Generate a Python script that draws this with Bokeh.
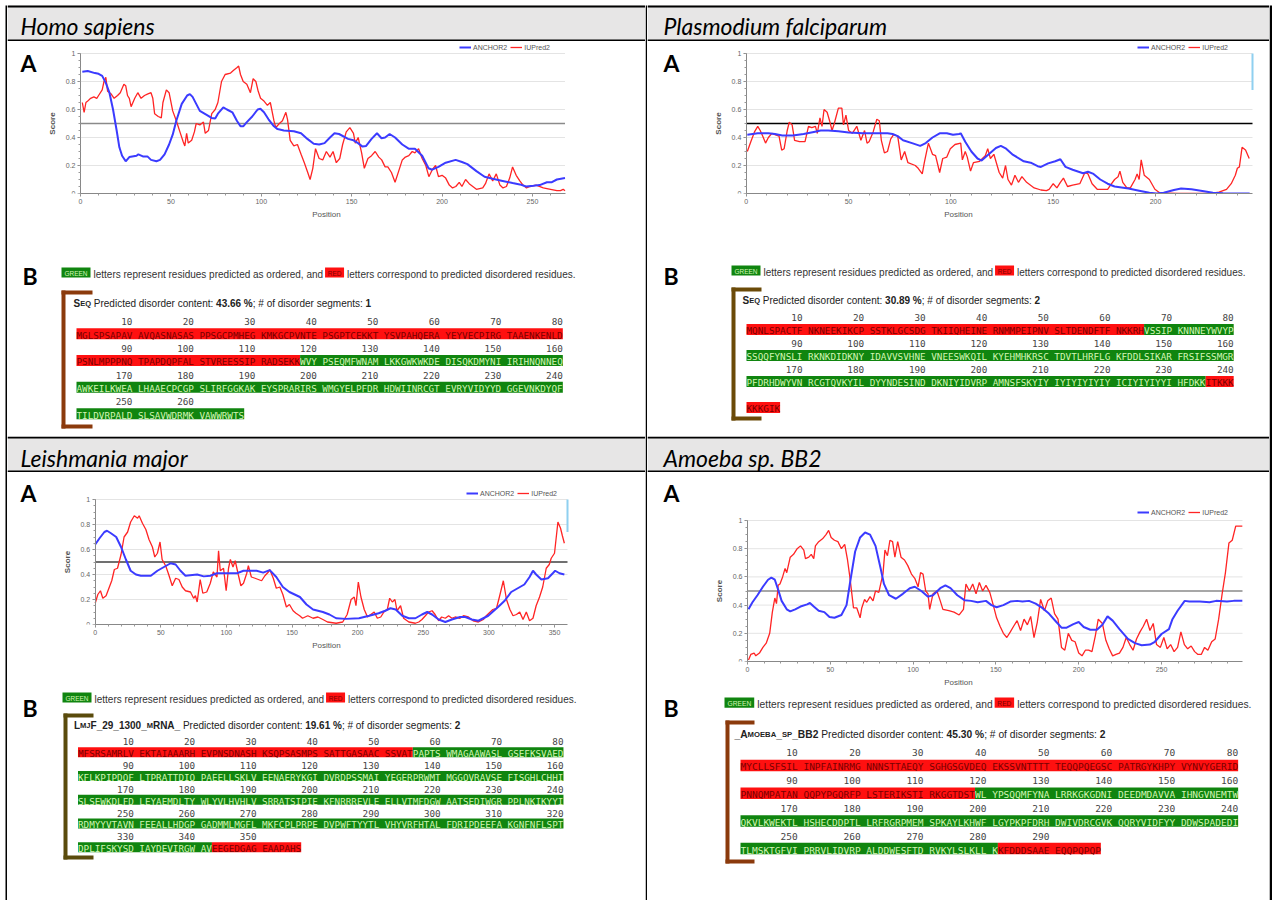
from bokeh.plotting import figure
from bokeh.layouts import row, column
from bokeh.models import Range1d, FixedTicker, Legend, LegendItem, Label, CustomJSTickFormatter
from bokeh.embed import file_html
from bokeh.resources import INLINE
from bokeh.core.properties import value

# ---------------------------------------------------------------- data
titles = ["Homo sapiens", "Plasmodium falciparum", "Leishmania major", "Amoeba sp. BB2"]
disorder_content = ["43.66 %", "30.89 %", "19.61 %", "45.30 %"]
disorder_segment_count = ["1", "2", "2", "2"]
legend_labels = ["ANCHOR2", "IUPred2"]
disorder_threshold = 0.5
score_ticks = [0, 0.2, 0.4, 0.6, 0.8, 1]
# light-blue marker seen at the right edge of two of the plots (score range)
plas_edge_marker = (0.74, 1.0)
leish_edge_marker = (0.74, 1.0)

homo_seq = ("MGLSPSAPAV AVQASNASAS PPSGCPMHEG KMKGCPVNTE PSGPTCEKKT YSVPAHQERA YEYVECPIRG TAAENKENLD "
            "PSNLMPPPNQ TPAPDQPFAL STVREESSIP RADSEKKWVY PSEQMFWNAM LKKGWKWKDE DISQKDMYNI IRIHNQNNEQ "
            "AWKEILKWEA LHAAECPCGP SLIRFGGKAK EYSPRARIRS WMGYELPFDR HDWIINRCGT EVRYVIDYYD GGEVNKDYQF "
            "TILDVRPALD SLSAVWDRMK VAWWRWTS")
plas_seq = ("MQNLSPACTF NKNEEKIKCP SSTKLGCSDG TKIIQHEINE RNMMPEIPNV SLTDENDFTF NKKRHVSSIP KNNNEYWVYP "
            "SSQQFYNSLI RKNKDIDKNY IDAVVSVHNE VNEESWKQIL KYEHMHKRSC TDVTLHRFLG KFDDLSIKAR FRSIFSSMGR "
            "PFDRHDWYVN RCGTQVKYIL DYYNDESIND DKNIYIDVRP AMNSFSKYIY IYIYIYIYIY ICIYIYIYYI HFDKKITKKK "
            "KKKGIK")
leish_seq = ("MFSRSAMRLV EKTAIAAARH EVPNSDNASH KSQPSASMPS SATTGASAAC SSVATPAPTS WMAGAAWASL GSEFKSVAED "
             "KFLKPIPDQF LTPRATTDIQ PAEELLSKLV EENAERYKGI DVRDPSSMAI YEGERPRWMT MGGQVRAVSE FISGHLCHHI "
             "SLSEWKDLFD LEYAEMDLTY WLYVLHVHLV SRRATSIPIE KFNRRREVLE ELLVTMFDGW AATSEDIWGR PPLNKIKYYI "
             "RDMYYVTAVN FEEALLHDGP GADMMLMGFL MKFCPLPRPE DVPWFTYYTL VHYVRFHTAL FDRIPDEEFA KGNFNFLSPT "
             "DPLIFSKYSD IAYDEVIRGW AVEEGEDGAG EAAPAHS")
amoeba_seq = ("MYCLLSFSIL INPFAINRMG NNNSTTAEQY SGHGSGVDEQ EKSSVNTTTT TEQQPQEGSC PATRGYKHPY VYNVYGERID "
              "PNNQMPATAN QQPYPGQRFP LSTERIKSTI RKGGTDSTWL YPSQQMFYNA LRRKGKGDNI DEEDMDAVVA IHNGVNEMTW "
              "QKVLKWEKTL HSHECDDPTL LRFRGRPMEM SPKAYLKHWF LGYPKPFDRH DWIVDRCGVK QQRYVIDFYY DDWSPADEDI "
              "TLMSKTGFVI PRRVLIDVRP ALDDWESFTD RVKYLSLKLL KKFDDDSAAE EQQPQPQP")

homo_disordered = [(1, 117)]
plas_disordered = [(1, 65), (236, 246)]
leish_disordered = [(1, 55), (343, 357)]
amoeba_disordered = [(1, 118), (282, 298)]

homo_anchor2 = [(1,0.87),(4,0.875),(8,0.86),(10,0.855),(12,0.84),(14,0.79),(16,0.72),(18,0.6),(20,0.45),
    (21.5,0.33),(23,0.27),(25,0.23),(27,0.26),(31,0.27),(32,0.28),(34.5,0.265),(37,0.265),(39,0.24),(42,0.23),
    (44,0.24),(46.5,0.28),(49,0.35),(51,0.42),(53,0.52),(56,0.64),(59,0.70),(60.5,0.71),(62,0.69),(64,0.64),
    (66,0.59),(70,0.56),(72.5,0.54),(74.5,0.535),(76,0.57),(79,0.615),(81,0.60),(84,0.58),(86.5,0.52),(88.5,0.48),
    (90,0.48),(92,0.51),(95,0.55),(98,0.60),(99.5,0.605),(101.5,0.58),(104,0.53),(107,0.48),(109,0.46),(112.5,0.45),
    (118,0.445),(122,0.43),(125.5,0.39),(129,0.355),(132,0.35),(135,0.36),(138,0.40),(140.5,0.43),(143,0.425),
    (148,0.39),(151,0.38),(153.5,0.36),(156,0.335),(158,0.34),(161,0.39),(164,0.43),(166.5,0.395),(168.5,0.40),
    (171,0.425),(174,0.40),(178,0.35),(181.5,0.32),(185,0.32),(189,0.27),(192.5,0.18),(194.5,0.17),(198,0.19),
    (202,0.22),(207.5,0.24),(211,0.225),(214,0.21),(219,0.16),(223.5,0.12),(228,0.105),(233.5,0.09),(239,0.075),
    (243,0.065),(246.5,0.05),(250.5,0.055),(254,0.06),(258,0.08),(260.5,0.08),(263.5,0.10),(268,0.11)]
homo_iupred2 = [(1,0.65),(2,0.58),(3,0.65),(4,0.66),(5.6,0.68),(7.4,0.69),(9,0.68),(10,0.70),(12,0.74),(13,0.80),
    (14,0.83),(15,0.73),(17,0.71),(18.6,0.68),(20.5,0.70),(22,0.72),(23,0.75),(24,0.78),(25,0.77),(26,0.70),
    (27,0.68),(28,0.62),(30,0.68),(31.7,0.72),(33.5,0.68),(35.4,0.70),(37,0.71),(39,0.72),(40,0.68),(41,0.57),
    (43,0.55),(44.7,0.54),(45.6,0.65),(47.5,0.74),(49,0.72),(51,0.59),(53,0.52),(55,0.44),(56.8,0.37),(57.7,0.34),
    (58.7,0.43),(59.6,0.36),(61.5,0.38),(63,0.44),(64,0.50),(66,0.49),(68,0.51),(69,0.43),(70.8,0.45),(72.6,0.57),
    (74.5,0.60),(76,0.65),(78,0.80),(80,0.85),(83,0.86),(84.7,0.88),(86.6,0.90),(87.5,0.91),(88.5,0.85),(90,0.80),
    (92,0.78),(94,0.72),(95.5,0.82),(97,0.80),(98.3,0.73),(99.6,0.68),(101.5,0.66),(103.4,0.63),(105,0.65),
    (107,0.52),(108,0.47),(110,0.50),(111.7,0.52),(113.6,0.58),(114.5,0.53),(116,0.38),(118,0.34),(120,0.35),
    (122,0.28),(123.8,0.22),(125.7,0.15),(127,0.10),(128.5,0.18),(130,0.32),(132,0.25),(134,0.24),(136,0.30),
    (138,0.26),(139.7,0.30),(141.5,0.22),(143.4,0.25),(145,0.35),(147,0.44),(149,0.47),(151,0.43),(152,0.36),
    (153.6,0.40),(155.5,0.29),(157,0.18),(159,0.25),(161,0.27),(163,0.30),(165,0.26),(166.6,0.24),(168.5,0.19),
    (170,0.19),(172,0.15),(174,0.08),(176,0.16),(178,0.24),(179.7,0.26),(181.6,0.27),(183.5,0.30),(185,0.29),
    (187,0.32),(189,0.25),(191,0.20),(192.7,0.12),(194.6,0.17),(196.4,0.20),(198,0.12),(200,0.13),(202,0.11),
    (204,0.06),(205.8,0.04),(207.6,0.05),(209.5,0.08),(211,0.05),(213,0.10),(215,0.07),(217,0.05),(219,0.03),
    (222.5,0.04),(224,0.07),(226,0.14),(228,0.09),(230,0.14),(232,0.06),(233.7,0.04),(235.6,0.05),(237.4,0.11),
    (239,0.19),(241,0.13),(243,0.09),(244.8,0.06),(246.7,0.04),(248.6,0.05),(252,0.06),(256,0.04),(260,0.03),
    (263.5,0.02),(265.5,0.02),(267,0.03),(268,0.02)]

plas_anchor2 = [(0.5,0.42),(5.6,0.43),(10.8,0.43),(14,0.425),(17.6,0.415),(22.7,0.415),(28,0.425),(33,0.44),
    (36.4,0.45),(40,0.45),(45,0.445),(50,0.435),(57,0.43),(64,0.43),(69,0.43),(71.5,0.425),(74,0.41),(76.6,0.38),
    (81,0.36),(85,0.34),(87.7,0.36),(91,0.40),(94.5,0.43),(98,0.43),(101,0.42),(104,0.425),(104.8,0.43),(107,0.37),
    (110,0.30),(113,0.25),(115,0.235),(118.5,0.28),(122,0.325),(124.4,0.34),(127,0.32),(130,0.28),(135.6,0.23),
    (139,0.22),(142.4,0.195),(144,0.19),(147.5,0.215),(151,0.23),(153.5,0.245),(156,0.19),(159.5,0.17),
    (164.6,0.145),(167,0.155),(169.7,0.14),(173,0.10),(176.6,0.07),(180,0.05),(186.8,0.035),(192,0.02),
    (197,0.005),(200.5,0.0),(204,0.005),(209,0.025),(212.5,0.035),(217.6,0.03),(224.4,0.015),(228,0.005),
    (233,0.002),(238,0.0),(246,0.0)]
plas_iupred2 = [(0.5,0.30),(2.2,0.37),(4,0.44),(5.6,0.48),(6.8,0.45),(8,0.41),(9.4,0.36),(10.8,0.40),(12.5,0.43),
    (14,0.42),(16,0.41),(17.3,0.31),(18.5,0.32),(20,0.45),(21,0.51),(22.4,0.49),(23.6,0.38),(26,0.37),(28.7,0.37),
    (30.4,0.48),(32,0.47),(33.8,0.48),(34.7,0.43),(36,0.54),(37,0.48),(38,0.60),(39.5,0.58),(40.7,0.52),(41.9,0.45),
    (43,0.50),(45,0.61),(46.7,0.61),(47.5,0.49),(48.7,0.56),(50,0.45),(51.8,0.43),(54,0.48),(56,0.38),(57.8,0.45),
    (59,0.36),(60,0.37),(62,0.44),(63.8,0.53),(65,0.52),(66,0.38),(67.5,0.29),(69,0.30),(70.6,0.39),(72,0.42),
    (74,0.41),(75.7,0.24),(77.4,0.30),(79,0.22),(82.6,0.20),(84,0.18),(86,0.14),(87,0.22),(89,0.36),(91,0.28),
    (92.5,0.27),(94.5,0.15),(96,0.25),(98,0.26),(99.7,0.32),(102,0.35),(104.8,0.36),(105.6,0.24),(107,0.30),
    (108,0.26),(109.6,0.16),(111,0.22),(114,0.23),(116.8,0.27),(118,0.32),(119.3,0.25),(121,0.28),(123.6,0.15),
    (125.3,0.11),(126.7,0.20),(127.9,0.10),(129.6,0.06),(131.3,0.13),(133,0.08),(134.7,0.12),(137,0.08),
    (140.7,0.04),(144,0.025),(146.7,0.02),(148,0.03),(150,0.07),(151.8,0.04),(153.5,0.08),(155,0.11),(157,0.05),
    (159.5,0.06),(163,0.07),(165.5,0.15),(167,0.14),(169,0.07),(171.5,0.03),(176.6,0.03),(178,0.06),(180,0.10),
    (181.7,0.12),(182.6,0.16),(184,0.08),(186,0.04),(187.7,0.04),(190,0.10),(191,0.14),(192,0.10),(193,0.24),
    (194.5,0.13),(197,0.10),(199.7,0.03),(202,0.005),(211,0.0),(219.3,0.0),(228,0.002),(231,0.01),(234.7,0.03),
    (237,0.07),(239,0.13),(240,0.18),(241,0.19),(242.3,0.33),(244,0.31),(245.8,0.25)]

leish_anchor2 = [(0,0.64),(3.3,0.69),(7,0.74),(9,0.75),(12,0.73),(16,0.70),(19.7,0.62),(23.4,0.52),(27,0.43),
    (31,0.40),(34.8,0.39),(42.4,0.39),(47.4,0.43),(52.4,0.46),(57.5,0.49),(61.3,0.48),(65,0.43),(68.8,0.39),
    (77.7,0.40),(82.7,0.385),(87.7,0.39),(92.8,0.41),(100,0.41),(108,0.41),(113,0.43),(118,0.43),(123,0.43),
    (128,0.415),(133,0.435),(138,0.38),(143,0.30),(148,0.26),(156,0.22),(161,0.16),(166,0.12),(173.5,0.10),
    (178.5,0.08),(183.6,0.05),(191,0.045),(201,0.05),(208.8,0.07),(216,0.09),(221,0.11),(225,0.13),(229,0.12),
    (234,0.07),(239,0.05),(244,0.05),(249,0.08),(253,0.10),(256.7,0.08),(261.7,0.04),(266.8,0.02),(271.8,0.04),
    (278,0.06),(282,0.06),(287,0.04),(292,0.03),(299.5,0.07),(307,0.14),(312,0.19),(317,0.26),(322,0.29),
    (327,0.32),(331,0.38),(333.6,0.43),(336,0.40),(340,0.36),(345,0.37),(348.7,0.41),(350.5,0.43),(353.8,0.41),
    (357.5,0.40)]
leish_iupred2 = [(0,0.17),(2,0.24),(4,0.27),(5.8,0.21),(8.3,0.23),(10.8,0.30),(12.6,0.35),(14.6,0.44),(17,0.45),
    (19.7,0.56),(22,0.70),(24.7,0.74),(27,0.82),(29.8,0.87),(32.3,0.85),(33.5,0.87),(36,0.81),(38.6,0.76),(41,0.68),
    (43.6,0.62),(45.4,0.54),(47.4,0.57),(49.4,0.66),(51,0.52),(53.7,0.47),(56,0.40),(58.7,0.31),(61.3,0.37),
    (63.8,0.36),(66.3,0.30),(68.8,0.27),(72.6,0.26),(75,0.21),(76.4,0.23),(77.7,0.18),(80,0.36),(82,0.25),(85,0.26),
    (87.7,0.33),(90,0.42),(92.8,0.38),(94,0.59),(95.3,0.43),(97.8,0.45),(99.8,0.27),(101.6,0.45),(103,0.52),
    (105,0.46),(106.7,0.51),(109,0.40),(111,0.31),(113,0.33),(115.5,0.41),(116.7,0.47),(119,0.38),(121.8,0.37),
    (124.3,0.36),(126.8,0.35),(129.3,0.39),(132,0.42),(133,0.44),(135.7,0.37),(138,0.29),(140.7,0.30),(143,0.24),
    (145.7,0.14),(148,0.16),(150.8,0.11),(153,0.09),(155.8,0.07),(158,0.05),(162,0.07),(166,0.05),(169.7,0.06),
    (173.5,0.04),(177,0.02),(183.6,0.01),(188.6,0.02),(192,0.08),(195,0.20),(197.4,0.22),(198.7,0.15),(200.5,0.34),
    (202.5,0.22),(205,0.12),(207.5,0.06),(210,0.08),(212.6,0.10),(215,0.05),(217.6,0.06),(220,0.10),(222.6,0.12),
    (224.4,0.21),(226.4,0.18),(228.4,0.20),(230,0.11),(232.7,0.15),(235,0.05),(239,0.02),(244,0.01),(246.6,0.02),
    (249,0.04),(251.6,0.07),(254,0.10),(256.7,0.11),(259,0.08),(261.7,0.03),(264,0.06),(266.8,0.05),(269.3,0.07),
    (271.8,0.05),(274.3,0.06),(278,0.05),(280.6,0.07),(284.4,0.06),(288,0.03),(292,0.02),(295.8,0.04),(298,0.07),
    (301,0.10),(303,0.12),(305.8,0.13),(308,0.22),(311,0.35),(313.4,0.20),(316,0.12),(318.4,0.07),(321,0.08),
    (323.5,0.10),(326,0.04),(328.5,0.10),(331,0.03),(333.6,0.05),(336,0.15),(338.6,0.22),(341,0.30),(343.7,0.45),
    (346,0.48),(347.5,0.53),(350,0.57),(352.6,0.82),(354.6,0.77),(356,0.71),(357.5,0.65)]

amoeba_anchor2 = [(0.6,0.37),(3,0.42),(6,0.47),(9.3,0.53),(12.4,0.58),(14.4,0.595),(16.5,0.58),(18.5,0.51),
    (20.6,0.43),(23.7,0.37),(25.8,0.355),(28.8,0.37),(32,0.39),(36,0.405),(37.7,0.415),(40,0.39),(43,0.36),
    (46.4,0.35),(49.5,0.315),(52.5,0.31),(56.7,0.33),(59.8,0.40),(61.8,0.55),(65,0.78),(68,0.88),(71,0.915),
    (74,0.90),(77.3,0.82),(80.4,0.66),(82.4,0.55),(85.5,0.47),(89.6,0.445),(93.8,0.48),(98,0.52),(101,0.53),
    (105,0.50),(109,0.46),(112,0.47),(116.4,0.52),(119.5,0.54),(122.6,0.52),(126.7,0.47),(131,0.435),(135,0.43),
    (139,0.42),(144,0.43),(147.3,0.40),(150.4,0.385),(154.5,0.40),(158.7,0.425),(162.8,0.43),(166,0.425),(170,0.43),
    (174,0.41),(178,0.38),(182,0.34),(186.5,0.28),(189.6,0.24),(192.7,0.24),(196.8,0.265),(200,0.28),(203,0.245),
    (207,0.225),(211,0.225),(214.3,0.26),(217.4,0.32),(220.5,0.29),(224.6,0.23),(229.7,0.16),(234,0.13),
    (238,0.115),(243,0.12),(246,0.14),(250,0.195),(254.5,0.23),(256.6,0.30),(259.7,0.36),(264,0.43),(266.8,0.425),
    (273,0.425),(279,0.42),(283,0.43),(289.5,0.425),(293.6,0.43),(298.8,0.43)]
amoeba_iupred2 = [(0.6,0.01),(2,0.05),(4,0.06),(5,0.04),(7.2,0.06),(9.3,0.10),(11.3,0.13),(13.4,0.20),(15,0.35),
    (16.5,0.45),(17.5,0.41),(18.5,0.54),(19.6,0.55),(21.2,0.60),(22.7,0.66),(23.7,0.63),(25.8,0.74),(27.8,0.76),
    (30,0.80),(32,0.82),(34,0.79),(35,0.73),(37,0.74),(38.5,0.76),(40,0.73),(41,0.82),(43,0.85),(45.3,0.87),
    (47.4,0.90),(49,0.93),(50.5,0.88),(52.5,0.86),(54.6,0.85),(56.7,0.80),(58.7,0.83),(60.4,0.72),(61.8,0.60),
    (64,0.38),(66,0.38),(68,0.31),(69,0.38),(70.7,0.44),(72,0.42),(74,0.46),(75.8,0.43),(77.3,0.50),(79.3,0.49),
    (80.8,0.57),(81.8,0.62),(83,0.79),(84.5,0.75),(86,0.86),(87.6,0.85),(89,0.74),(90.7,0.85),(92.7,0.74),
    (94.8,0.72),(96.8,0.68),(99,0.62),(101,0.59),(103,0.53),(104.5,0.63),(106,0.62),(107.6,0.50),(109,0.48),
    (110,0.37),(112,0.48),(114.4,0.50),(116.4,0.43),(118,0.37),(121.6,0.36),(124.7,0.35),(127.8,0.33),(130.4,0.37),
    (131.9,0.55),(134,0.50),(136,0.55),(138,0.48),(140,0.56),(142,0.50),(144,0.54),(146.3,0.49),(148.4,0.40),
    (150.4,0.31),(152.5,0.25),(154.5,0.20),(156.6,0.17),(158.7,0.21),(160.7,0.25),(162.8,0.29),(164.9,0.22),
    (167,0.30),(169,0.26),(171,0.32),(173,0.17),(175,0.28),(177,0.44),(179.3,0.36),(181.3,0.43),(183.4,0.45),
    (185.4,0.34),(187.5,0.30),(189.6,0.10),(191.6,0.08),(193.7,0.20),(195.8,0.15),(197.8,0.14),(200,0.06),
    (202,0.04),(204,0.08),(206,0.08),(208,0.07),(210,0.18),(211.8,0.30),(214.3,0.27),(216.4,0.15),(218.4,0.09),
    (220.5,0.04),(222.5,0.05),(224.6,0.06),(226.7,0.10),(228.7,0.17),(230.8,0.12),(232.8,0.08),(234.9,0.16),
    (237,0.21),(239,0.25),(241,0.30),(243,0.22),(245,0.27),(247,0.12),(249.3,0.10),(251.4,0.17),(253.4,0.09),
    (255.5,0.12),(257.6,0.07),(259.7,0.10),(261.7,0.21),(263.8,0.12),(265.8,0.09),(267.9,0.11),(270,0.07),
    (272,0.05),(274,0.05),(276,0.10),(278,0.08),(280.3,0.14),(282.4,0.16),(284.5,0.30),(286.6,0.48),(288.6,0.63),
    (290.7,0.84),(292.7,0.86),(294.8,0.96),(298.8,0.96)]

# ---------------------------------------------------------------- styling helpers
BLUE = "#3b3bff"
RED = "#ff2424"
HEADER_BG = "#e7e6e6"
GREEN_BG = "#10850f"
RED_BG = "#ff1010"
GREEN_TXT = "#d2f5b4"
RED_TXT = "#780000"
SANS = "Liberation Sans"
MONO = "DejaVu Sans Mono"
TY = -2.0      # baseline correction for small texts
LATO_TY = -8.0  # baseline correction for the large Lato texts

UP = "ABCDEFGHIJKLMNOPQRSTUVWXYZ"
LO = "abcdefghijklmnopqrstuvwxyz"
REG_UP = [667,667,722,722,667,611,778,722,278,500,667,556,833,722,778,667,778,722,667,611,722,667,944,667,667,611]
REG_LO = [556,556,500,556,556,278,556,556,222,222,500,222,833,556,556,556,556,333,500,278,556,500,722,500,500,500]
BLD_UP = [722,722,722,722,667,611,778,722,278,556,722,611,833,722,778,667,778,722,667,611,722,667,944,667,667,611]
BLD_LO = [556,611,556,611,556,333,611,611,278,278,556,278,889,611,611,611,611,389,556,333,611,556,778,556,556,500]


def text_w(s, size, bold):
    tot = 0
    for ch in s:
        if ch in UP:
            tot += (BLD_UP if bold else REG_UP)[UP.index(ch)]
        elif ch in LO:
            tot += (BLD_LO if bold else REG_LO)[LO.index(ch)]
        elif ch.isdigit() or ch in "#_":
            tot += 556
        elif ch == "%":
            tot += 889
        elif ch in ":;":
            tot += 333 if bold else 278
        else:
            tot += 278
    return tot / 1000.0 * size


def px_fig(w, h, bg="white"):
    p = figure(width=w, height=h, x_range=Range1d(0, w), y_range=Range1d(h, 0),
               x_axis_location=None, y_axis_location=None, tools="",
               toolbar_location=None, output_backend="svg", min_border=0)
    p.grid.visible = False
    p.outline_line_color = None
    p.background_fill_color = bg
    p.border_fill_color = bg
    return p


def bar(w, h, left_white):
    p = px_fig(w, h)
    p.quad(left=[left_white], right=[w], top=[5], bottom=[h], fill_color="black", line_color=None)
    return p


def make_header(title, w, h, top, tx, base):
    p = px_fig(w, h)
    p.quad(left=[0], right=[w], top=[top], bottom=[h], fill_color=HEADER_BG, line_color=None)
    p.quad(left=[0, 0], right=[w, w], top=[top, h - 2], bottom=[top + 2, h], fill_color="black", line_color=None)
    p.text(x=[tx], y=[base + LATO_TY], text=[title], text_font=value("Lato"), text_font_style="italic",
           text_font_size="23px", text_baseline="alphabetic", text_color="black")
    return p


def make_chart(c, anchor, iupred, marker=None):
    qx0, qw = c["qx0"], c["qw"]
    fx0, fx1, dend = c["fx"]          # page px of position 0, page px of frame end, data value at frame end
    ppx = (fx1 - fx0) / dend
    xs = -(fx0 - qx0) / ppx
    xe = dend + (qx0 + qw - fx1) / ppx
    top, y1, y0 = c["fy"]             # figure top, page px of score 1, page px of score 0
    ppy = y0 - y1
    yend = (y0 - top) / ppy
    h = int(round(y0 - top)) + 32
    p = figure(width=qw, height=h, x_range=Range1d(xs, xe), y_range=Range1d(0, yend),
               tools="", toolbar_location=None, output_backend="svg",
               min_border_left=0, min_border_right=0, min_border_top=0, min_border_bottom=32)
    p.outline_line_color = None
    p.background_fill_color = "white"
    p.border_fill_color = "white"
    p.xgrid.visible = False
    p.ygrid.visible = False
    p.xaxis.ticker = FixedTicker(ticks=list(range(0, int(dend) + 1, 50)),
                                 minor_ticks=list(range(0, int(dend) + 1, 10)))
    p.xaxis.bounds = (0, dend)
    p.yaxis.ticker = FixedTicker(ticks=score_ticks, minor_ticks=[round(i * 0.05, 2) for i in range(21)])
    p.yaxis.formatter = CustomJSTickFormatter(code="return String(tick)")
    p.yaxis.fixed_location = 0
    p.yaxis.bounds = (0, 1)
    for ax in (p.xaxis, p.yaxis):
        ax.axis_line_color = "#888888"
        ax.major_tick_line_color = "#888888"
        ax.minor_tick_line_color = "#999999"
        ax.major_tick_out = 3
        ax.major_tick_in = 0
        ax.minor_tick_out = 2
        ax.minor_tick_in = 0
        ax.major_label_text_font = SANS
        ax.major_label_text_font_size = "7px"
        ax.major_label_text_color = "#666666"
        ax.major_label_standoff = 2
        ax.axis_label_text_font = SANS
        ax.axis_label_text_font_size = "8px"
        ax.axis_label_text_font_style = "normal"
        ax.axis_label_text_color = "#555555"
        ax.axis_label_standoff = 3
    p.xaxis.axis_label = "Position"
    p.yaxis.axis_label = "Score"
    p.yaxis.axis_label_text_font_style = "bold"
    p.yaxis.axis_label_standoff = 6
    gl = [t for t in score_ticks if t > 0]
    p.segment(x0=[0] * len(gl), y0=gl, x1=[dend] * len(gl), y1=gl, line_color="#e4e4e4", line_width=1)
    p.segment(x0=[0], y0=[disorder_threshold], x1=[dend], y1=[disorder_threshold],
              line_color=c["thr"], line_width=1.4)
    if marker is not None:
        p.segment(x0=[dend], y0=[marker[0]], x1=[dend], y1=[marker[1]], line_color="#8fd0f0", line_width=2)
    rr = p.line([a for a, b in iupred], [b for a, b in iupred], line_color=RED, line_width=1.3)
    rb = p.line([a for a, b in anchor], [b for a, b in anchor], line_color=BLUE, line_width=2)
    leg = Legend(items=[LegendItem(label=legend_labels[0], renderers=[rb]),
                        LegendItem(label=legend_labels[1], renderers=[rr])],
                 location=(c["leg"][0] - qx0, y0 - c["leg"][1] - 4), orientation="horizontal",
                 padding=0, margin=0, spacing=3,
                 glyph_width=12, glyph_height=8, label_height=8, label_standoff=2,
                 label_text_font=SANS, label_text_font_size="7px", label_text_color="#555555",
                 border_line_alpha=0, background_fill_alpha=0)
    p.add_layout(leg)
    ax_, ab_ = c["A"]
    p.add_layout(Label(x=ax_ - qx0, y=y0 - (ab_ + LATO_TY), x_units="screen", y_units="screen", text="A",
                       text_font="Lato", text_font_style="bold", text_font_size="23px",
                       text_baseline="alphabetic", text_color="black"))
    return p


def draw_run(p, x, y, t, size, bold, color, font=SANS):
    lead = len(t) - len(t.lstrip(" "))
    xs = x + text_w(" " * lead, size, bold)
    if t.strip():
        p.text(x=[xs], y=[y], text=[t.strip()], text_font=value(font), text_font_size="%.2fpx" % size,
               text_font_style="bold" if bold else "normal", text_color=color, text_baseline="alphabetic")
    return x + text_w(t, size, bold)


def make_b(c, seq_text, segs, label_runs, pct, nseg):
    x0, y0 = c["qx0"], c["btop"]
    p = px_fig(c["qw"], c["bh"])
    X = lambda v: v - x0
    Y = lambda v: v - y0
    s = c["scale"]
    fs = 10 * s
    # B label
    p.text(x=[X(c["B"][0])], y=[Y(c["B"][1]) + LATO_TY], text=["B"], text_font=value("Lato"),
           text_font_style="bold", text_font_size="23px", text_baseline="alphabetic", text_color="black")
    # colour legend line
    lx, ly = c["leg"]
    gw, rw, bh = 29 * s, 19 * s, 10 * s
    p.quad(left=[X(lx)], right=[X(lx + gw)], top=[Y(ly - bh / 2)], bottom=[Y(ly + bh / 2)],
           fill_color=GREEN_BG, line_color=None)
    p.text(x=[X(lx + gw / 2)], y=[Y(ly + 2.3 * s) + TY * 0.5], text=["GREEN"], text_align="center",
           text_baseline="alphabetic", text_font=value(SANS), text_font_size="%.2fpx" % (6.5 * s),
           text_color=GREEN_TXT)
    xx = draw_run(p, X(lx + gw + 3 * s), Y(ly + 3.5 * s) + TY,
                  "letters represent residues predicted as ordered, and", fs, False, "#333333")
    rx = xx + 2 * s
    p.quad(left=[rx], right=[rx + rw], top=[Y(ly - bh / 2)], bottom=[Y(ly + bh / 2)],
           fill_color=RED_BG, line_color=None)
    p.text(x=[rx + rw / 2], y=[Y(ly + 2.3 * s) + TY * 0.5], text=["RED"], text_align="center",
           text_baseline="alphabetic", text_font=value(SANS), text_font_size="%.2fpx" % (6.5 * s),
           text_color=RED_TXT)
    draw_run(p, rx + rw + 3 * s, Y(ly + 3.5 * s) + TY,
             "letters correspond to predicted disordered residues.", fs, False, "#333333")
    # bracket
    bx, bt, bb, barm = c["bracket"]
    th = 4
    p.quad(left=[X(bx), X(bx), X(bx)], right=[X(bx + th), X(barm), X(barm)],
           top=[Y(bt), Y(bt), Y(bb - th)], bottom=[Y(bb), Y(bt + th), Y(bb)],
           fill_color=c["bcolor"], line_color=None)
    # header line
    hx, hy = c["head"]
    xx = X(hx)
    yb = Y(hy + 3.5 * s) + TY
    for t, f, b in label_runs:
        xx = draw_run(p, xx, yb, t, fs * f, b, "#222222")
    xx = draw_run(p, xx, yb, " Predicted disorder content: ", fs, False, "#222222")
    xx = draw_run(p, xx, yb, pct, fs, True, "#222222")
    xx = draw_run(p, xx, yb, "; # of disorder segments: ", fs, False, "#222222")
    draw_run(p, xx, yb, nseg, fs, True, "#222222")
    # sequence block
    seq = "".join(seq_text.split())
    L = len(seq)
    dis = [False] * L
    for a, b in segs:
        for i in range(a - 1, b):
            dis[i] = True
    sx, pitch = c["seqx"], c["pitch"]
    msize = pitch / 0.602
    nrows = (L + 79) // 80
    for r in range(nrows):
        ny = c["num0"] + r * c["rowpitch"]
        sy = ny + c["seqoff"]
        for g in range(8):
            resnum = r * 80 + (g + 1) * 10
            if resnum <= L:
                p.text(x=[X(sx + (g * 11 + 10) * pitch)], y=[Y(ny + 3.4) + TY], text=[str(resnum)],
                       text_align="right", text_baseline="alphabetic", text_font=value(MONO),
                       text_font_size="%.2fpx" % msize, text_color="#444444")
        idx = list(range(r * 80, min(L, r * 80 + 80)))
        runs = []
        for i in idx:
            if runs and runs[-1][2] == dis[i]:
                runs[-1][1] = i
            else:
                runs.append([i, i, dis[i]])
        bh2 = c["band"]
        for a, b, d in runs:
            ja, jb = a - r * 80, b - r * 80
            ca, cb = ja + ja // 10, jb + jb // 10
            left = sx + ca * pitch
            right = sx + (cb + 1) * pitch
            p.quad(left=[X(left)], right=[X(right)], top=[Y(sy - bh2 / 2)], bottom=[Y(sy + bh2 / 2)],
                   fill_color=RED_BG if d else GREEN_BG, line_color=None)
            txt = ""
            for i in range(a, b + 1):
                j = i - r * 80
                if j % 10 == 0 and j > 0 and i != a:
                    txt += " "
                txt += seq[i]
            p.text(x=[X(left)], y=[Y(sy + 3.4) + TY], text=[txt], text_baseline="alphabetic",
                   text_font=value(MONO), text_font_size="%.2fpx" % msize,
                   text_color=RED_TXT if d else GREEN_TXT)
    return p


# ---------------------------------------------------------------- layout configs (page pixels)
LW, RW = 638, 622
LX0, RX0 = 7, 647

q1 = dict(qx0=LX0, qw=LW, btop=225, bh=211, scale=1.0, B=(22, 283), leg=(61, 272),
          bracket=(61, 290, 428, 92), bcolor="#8b3a0c", head=(73, 301), seqx=76, pitch=5.59,
          num0=320, rowpitch=26.67, seqoff=13.3, band=11)
q2 = dict(qx0=RX0, qw=RW, btop=225, bh=211, scale=1.0, B=(663, 283), leg=(731, 270),
          bracket=(731, 287, 420, 761), bcolor="#6b4a08", head=(742, 298), seqx=746, pitch=5.6,
          num0=316, rowpitch=26, seqoff=13, band=11)
q3 = dict(qx0=LX0, qw=LW, btop=656, bh=244, scale=1.0, B=(22, 715), leg=(62, 697),
          bracket=(63, 713, 859, 93), bcolor="#5a4b0c", head=(73.5, 723), seqx=77.5, pitch=5.58,
          num0=740, rowpitch=23.75, seqoff=11.7, band=10)
q4 = dict(qx0=RX0, qw=RW, btop=693, bh=207, scale=1.025, B=(663, 715), leg=(724, 702),
          bracket=(725, 720, 863, 754), bcolor="#8b3a0c", head=(734, 732), seqx=740, pitch=5.72,
          num0=751, rowpitch=27.7, seqoff=14, band=11.5)

c1 = dict(qx0=LX0, qw=LW, fx=(80, 564.5, 268), fy=(41, 53, 193), leg=(459, 47), thr="#8a8a8a", A=(20, 70))
c2 = dict(qx0=RX0, qw=RW, fx=(745.8, 1252, 247.4), fy=(41, 53, 193), leg=(1137, 47), thr="#000000", A=(663, 70))
c3 = dict(qx0=LX0, qw=LW, fx=(94.7, 567, 359.9), fy=(472, 499, 624), leg=(466, 493), thr="#404040", A=(20, 500))
c4 = dict(qx0=RX0, qw=RW, fx=(747, 1242, 298.9), fy=(472, 520, 661), leg=(1137, 512), thr="#8a8a8a", A=(663, 500))

label_seq = [("S", 1.0, True), ("EQ", 0.75, True)]
label_leish = [("L", 1.0, True), ("MJ", 0.75, True), ("F_29_1300_", 1.0, True), ("M", 0.75, True), ("RNA_", 1.0, True)]
label_amoeba = [("_A", 1.0, True), ("MOEBA", 0.75, True), ("_", 1.0, True), ("SP", 0.75, True), ("_BB2", 1.0, True)]

h1 = make_header(titles[0], LW, 41, 5, 20 - LX0, 33)
h2 = make_header(titles[1], RW, 41, 5, 663 - RX0, 33)
h3 = make_header(titles[2], LW, 36, 0, 20 - LX0, 29)
h4 = make_header(titles[3], RW, 36, 0, 663 - RX0, 29)

ch1 = make_chart(c1, homo_anchor2, homo_iupred2)
ch2 = make_chart(c2, plas_anchor2, plas_iupred2, plas_edge_marker)
ch3 = make_chart(c3, leish_anchor2, leish_iupred2, leish_edge_marker)
ch4 = make_chart(c4, amoeba_anchor2, amoeba_iupred2)

b1 = make_b(q1, homo_seq, homo_disordered, label_seq, disorder_content[0], disorder_segment_count[0])
b2 = make_b(q2, plas_seq, plas_disordered, label_seq, disorder_content[1], disorder_segment_count[1])
b3 = make_b(q3, leish_seq, leish_disordered, label_leish, disorder_content[2], disorder_segment_count[2])
b4 = make_b(q4, amoeba_seq, amoeba_disordered, label_amoeba, disorder_content[3], disorder_segment_count[3])

H_TOTAL = 900
left = column(h1, ch1, b1, h3, ch3, b3, spacing=0)
right = column(h2, ch2, b2, h4, ch4, b4, spacing=0)
root = row(bar(7, H_TOTAL, 5), left, bar(2, H_TOTAL, 0), right, bar(3, H_TOTAL, 0), spacing=0)

open("out.html", "w").write(file_html(root, INLINE))
